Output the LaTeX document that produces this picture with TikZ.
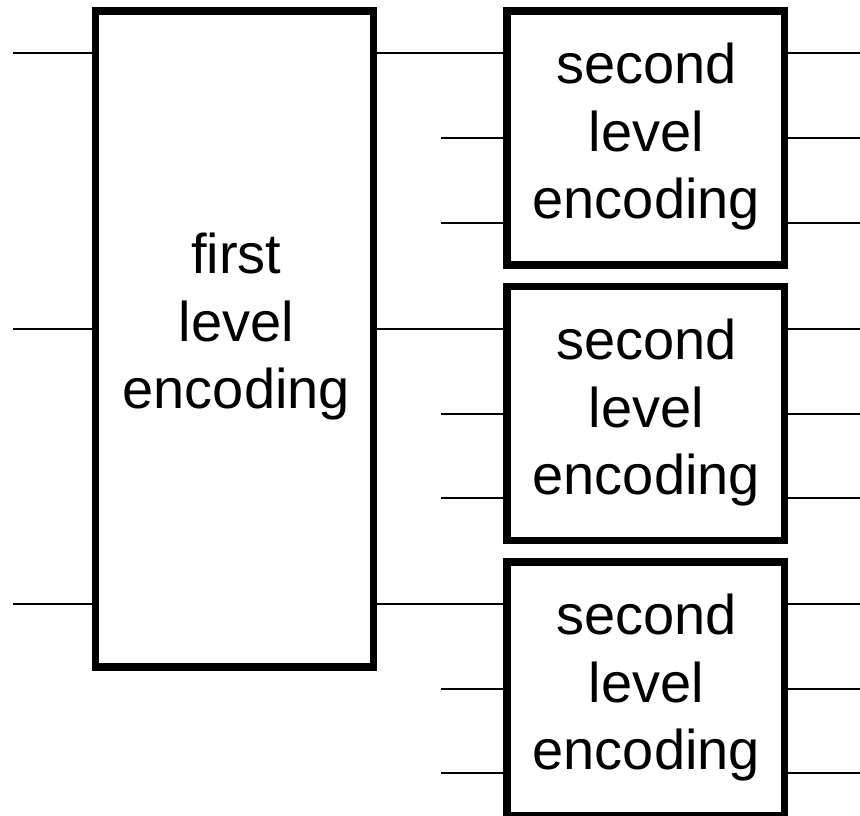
\documentclass[tikz,border=0pt]{standalone}
\usepackage{fontspec}
\setmainfont{Liberation Sans}
\begin{document}
\begin{tikzpicture}[x=1pt,y=-1pt,
  blk/.style={draw, line width=7.5pt, minimum width=277.7pt, inner sep=0pt, outer sep=0pt},
  lbl/.style={align=center, inner sep=0pt, font=\fontsize{56}{67.5}\selectfont},
  wire/.style={line width=2.2pt}]
\useasboundingbox (0,0) rectangle (860,816);
% boxes
\node[blk, minimum height=656pt] (big) at (234.5,339) {};
\node[blk, minimum height=254pt] (s1) at (645.6,138) {};
\node[blk, minimum height=254pt] (s2) at (645.6,413.5) {};
\node[blk, minimum height=254pt] (s3) at (645.6,689) {};
% labels
\node[lbl] (tb) at (236.3,326.6) {first\\level\\encoding};
\node[lbl] (t1) at (646.3,136.6) {second\\level\\encoding};
\node[lbl] (t2) at (646.3,412.6) {second\\level\\encoding};
\node[lbl] (t3) at (646.3,687.6) {second\\level\\encoding};
% free ends
\coordinate (l1) at (13,53);
\coordinate (l2) at (13,329);
\coordinate (l3) at (13,604);
\coordinate (a1) at (441,138);
\coordinate (a2) at (441,223);
\coordinate (b1) at (441,414);
\coordinate (b2) at (441,498);
\coordinate (c1) at (441,689);
\coordinate (c2) at (441,773);
\coordinate (o1) at (860,53);
\coordinate (o2) at (860,138);
\coordinate (o3) at (860,223);
\coordinate (o4) at (860,329);
\coordinate (o5) at (860,414);
\coordinate (o6) at (860,498);
\coordinate (o7) at (860,604);
\coordinate (o8) at (860,689);
\coordinate (o9) at (860,773);
% inputs to first level
\draw[wire] (l1) -- (big.west |- l1);
\draw[wire] (l2) -- (big.west |- l2);
\draw[wire] (l3) -- (big.west |- l3);
% first level to second level
\draw[wire] (big.east |- o1) -- (s1.west |- o1);
\draw[wire] (big.east |- o4) -- (s2.west |- o4);
\draw[wire] (big.east |- o7) -- (s3.west |- o7);
% extra inputs
\draw[wire] (a1) -- (s1.west |- a1);
\draw[wire] (a2) -- (s1.west |- a2);
\draw[wire] (b1) -- (s2.west |- b1);
\draw[wire] (b2) -- (s2.west |- b2);
\draw[wire] (c1) -- (s3.west |- c1);
\draw[wire] (c2) -- (s3.west |- c2);
% outputs
\draw[wire] (s1.east |- o1) -- (o1);
\draw[wire] (s1.east |- o2) -- (o2);
\draw[wire] (s1.east |- o3) -- (o3);
\draw[wire] (s2.east |- o4) -- (o4);
\draw[wire] (s2.east |- o5) -- (o5);
\draw[wire] (s2.east |- o6) -- (o6);
\draw[wire] (s3.east |- o7) -- (o7);
\draw[wire] (s3.east |- o8) -- (o8);
\draw[wire] (s3.east |- o9) -- (o9);
\end{tikzpicture}
\end{document}
